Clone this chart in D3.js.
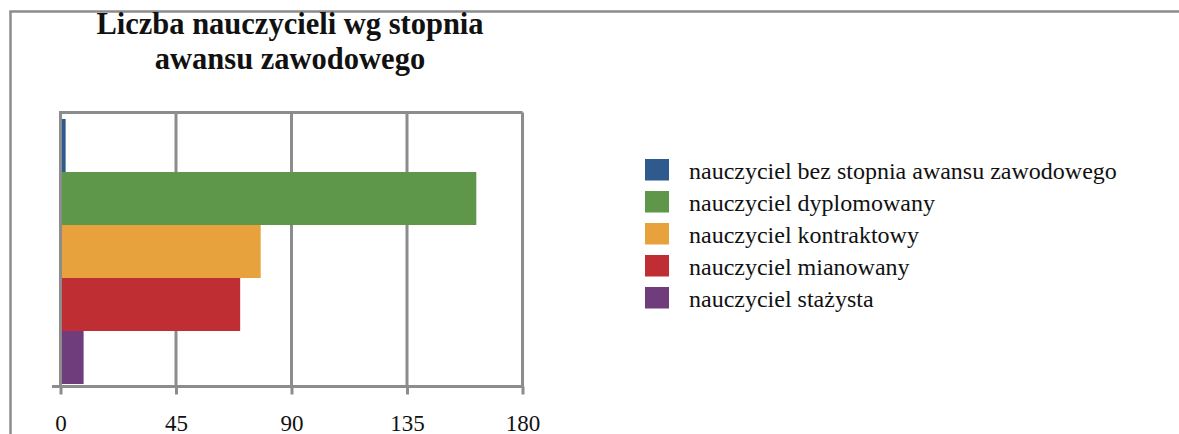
<!DOCTYPE html>
<html>
<head>
<meta charset="utf-8">
<script src="https://cdn.jsdelivr.net/npm/d3@7"></script>
<style>
  html, body { margin: 0; padding: 0; background: #fff; }
  svg { display: block; }
  text { font-family: "Liberation Serif", "DejaVu Serif", serif; fill: #111; }
</style>
</head>
<body>
<svg id="chart" width="1179" height="434"></svg>
<script>
// Teachers by professional promotion level
const titleLines = ["Liczba nauczycieli wg stopnia", "awansu zawodowego"];
const seriesNames = [
  "nauczyciel bez stopnia awansu zawodowego",
  "nauczyciel dyplomowany",
  "nauczyciel kontraktowy",
  "nauczyciel mianowany",
  "nauczyciel stażysta"
];
const seriesValues = [2, 162, 78, 70, 9];
const seriesColors = ["#2e5a8d", "#5e974a", "#e8a23d", "#be2e33", "#6f3c7c"];
const tickValues = [0, 45, 90, 135, 180];

const serif = "'Liberation Serif', 'DejaVu Serif', serif";
const svg = d3.select("#chart");
const gridColor = "#8c8c8c";

// outer chart frame (runs past the right and bottom edges)
svg.append("rect")
  .attr("x", 10.5).attr("y", 11.5)
  .attr("width", 1300).attr("height", 600)
  .attr("fill", "none")
  .attr("stroke", gridColor)
  .attr("stroke-width", 2.5);

// title, two lines
svg.append("g").selectAll("text").data(titleLines).join("text")
  .attr("x", 290)
  .attr("y", (d, i) => 34 + i * 35)
  .attr("text-anchor", "middle")
  .attr("font-family", serif)
  .attr("font-weight", "bold")
  .attr("font-size", 30.5)
  .text(d => d);

// plot area
const plot = { left: 60.5, right: 522.5, top: 112.5, bottom: 386.5 };

const x = d3.scaleLinear().domain([0, 180]).range([plot.left, plot.right]);
const y = d3.scaleBand().domain(seriesNames).range([119, 384]).padding(0);

// vertical gridlines
svg.append("g").selectAll("line").data(tickValues.slice(1)).join("line")
  .attr("x1", d => x(d)).attr("x2", d => x(d))
  .attr("y1", plot.top).attr("y2", plot.bottom)
  .attr("stroke", gridColor).attr("stroke-width", 3);

// top edge of plot area
svg.append("line")
  .attr("x1", plot.left).attr("x2", plot.right)
  .attr("y1", plot.top).attr("y2", plot.top)
  .attr("stroke", gridColor).attr("stroke-width", 3);

// bars
svg.append("g").selectAll("rect").data(seriesNames).join("rect")
  .attr("x", x(0))
  .attr("y", d => y(d))
  .attr("width", (d, i) => x(seriesValues[i]) - x(0))
  .attr("height", y.bandwidth())
  .attr("fill", (d, i) => seriesColors[i]);

// value axis
const xAxis = d3.axisBottom(x).tickValues(tickValues).tickSize(8).tickSizeOuter(0).tickFormat(d3.format("d"));
const gx = svg.append("g")
  .attr("transform", `translate(0,${plot.bottom})`)
  .call(xAxis);
gx.select(".domain").remove();
gx.selectAll(".tick line").attr("stroke", gridColor).attr("stroke-width", 3);
gx.selectAll(".tick text")
  .attr("y", 0).attr("dy", null)
  .attr("transform", "translate(0,44)")
  .attr("font-size", 23)
  .attr("font-family", serif)
  .attr("fill", "#111");

// axis baseline, extending a little to the left of the category axis
svg.append("line")
  .attr("x1", 52).attr("x2", plot.right + 1.5)
  .attr("y1", plot.bottom).attr("y2", plot.bottom)
  .attr("stroke", gridColor).attr("stroke-width", 3);

// category axis line
svg.append("line")
  .attr("x1", plot.left).attr("x2", plot.left)
  .attr("y1", plot.top - 1.5).attr("y2", plot.bottom + 1.5)
  .attr("stroke", gridColor).attr("stroke-width", 3);

// legend
const legend = svg.append("g").attr("transform", "translate(645,159)");
const item = legend.selectAll("g").data(seriesNames).join("g")
  .attr("transform", (d, i) => `translate(0,${i * 32})`);
item.append("rect")
  .attr("width", 24).attr("height", 21.5)
  .attr("fill", (d, i) => seriesColors[i]);
item.append("text")
  .attr("x", 44).attr("y", 19.5)
  .attr("font-family", serif)
  .attr("font-size", 24)
  .attr("fill", "#111")
  .text(d => d);
</script>
</body>
</html>
